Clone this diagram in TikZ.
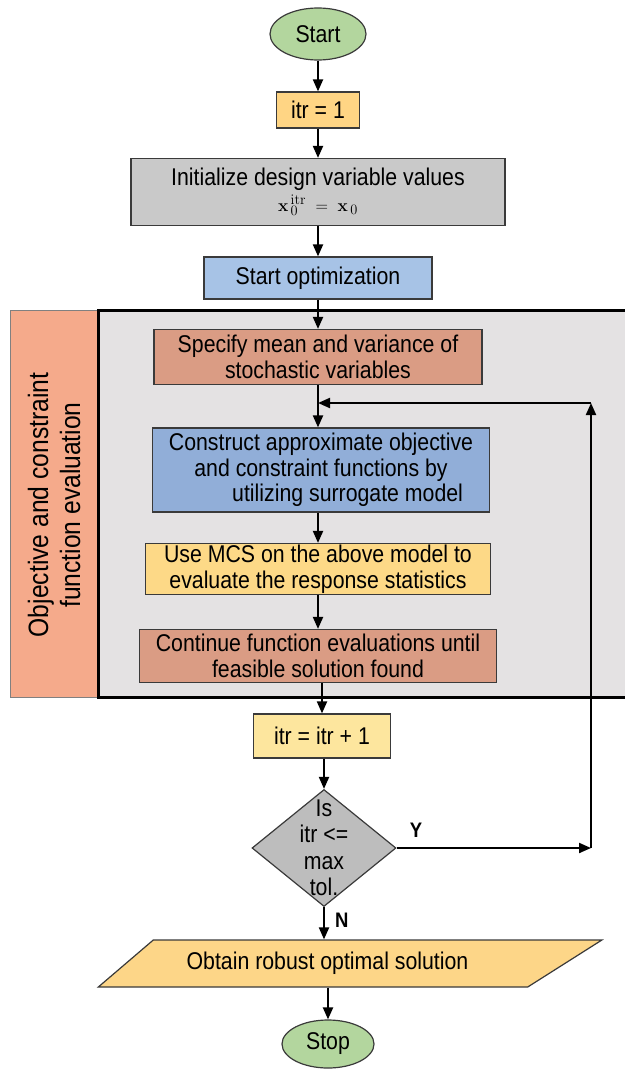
\documentclass[tikz,border=0pt]{standalone}
\usepackage[no-math]{fontspec}
\setmainfont{Liberation Sans}[FakeStretch=0.88]
\usetikzlibrary{shapes.geometric, arrows.meta}
\definecolor{termgreen}{HTML}{B3D69E}
\definecolor{initorange}{HTML}{FFD584}
\definecolor{boxgray}{HTML}{C9C9C9}
\definecolor{optblue}{HTML}{A7C3E6}
\definecolor{panelgray}{HTML}{E4E2E3}
\definecolor{stripsalmon}{HTML}{F5AA8B}
\definecolor{specsalmon}{HTML}{DA9C84}
\definecolor{consblue}{HTML}{91AED8}
\definecolor{mcsyellow}{HTML}{FDD987}
\definecolor{incyellow}{HTML}{FDE69E}
\definecolor{decgray}{HTML}{BDBDBD}
\definecolor{outorange}{HTML}{FDD688}
\definecolor{edgegray}{HTML}{3A3A3A}

\begin{document}
\begin{tikzpicture}[x=1pt, y=-1pt,
font=\fontsize{24.2}{25.5}\selectfont,
box/.style={draw=edgegray, line width=1.2pt, inner sep=0pt, align=center},
term/.style={box, ellipse, fill=termgreen},
arr/.style={line width=2pt, -{Triangle[length=12pt, width=10pt]}},
yn/.style={font=\fontsize{21}{22}\selectfont\bfseries, inner sep=0pt}]
\useasboundingbox (0,0) rectangle (624,1070);
\fill[panelgray] (98,310) rectangle (630,697);
\draw[fill=stripsalmon, draw=gray, line width=1pt] (10,310) rectangle (98,697);
\draw[line width=3pt] (630,310) -- (98,310) -- (98,697) -- (630,697);
\node[rotate=90, align=center, font=\fontsize{28}{32}\selectfont] (striptext) at (54,505) {Objective and constraint\\function evaluation};
\node[term, minimum width=96, minimum height=52] (start) at (318,34) {Start};
\node[box, fill=initorange, minimum width=83, minimum height=36] (itr1) at (318,110) {itr = 1};
\node[box, fill=boxgray, minimum width=374, minimum height=67] (init) at (318,192) {Initialize design variable values\\
	{\fontsize{19}{20}\selectfont$\mathbf{x}^{\,\mathrm{itr}}_{\,0} \;=\; \mathbf{x}_{\,0}$}};
\node[box, fill=optblue, minimum width=228, minimum height=42] (opt) at (318,278) {Start optimization};
\node[box, fill=specsalmon, minimum width=328, minimum height=55] (spec) at (318,357) {Specify mean and variance of\\stochastic variables};
\node[box, fill=consblue, minimum width=337, minimum height=84] (cons) at (321,470) {Construct approximate objective\\and constraint functions by\\\hspace{2.2em}utilizing surrogate model};
\node[box, fill=mcsyellow, minimum width=345, minimum height=51] (mcs) at (318,569) {Use MCS on the above model to\\evaluate the response statistics};
\node[box, fill=specsalmon, minimum width=357, minimum height=53] (cont) at (318,656) {Continue function evaluations until\\feasible solution found};
\node[box, fill=incyellow, minimum width=137, minimum height=44] (inc) at (322,736) {itr = itr + 1};
\node[box, diamond, fill=decgray, minimum width=144, minimum height=117] (dec) at (324,848) {};
\node[align=center, inner sep=0pt, font=\fontsize{24.2}{26.5}\selectfont] (dectext) at (dec.center) {Is\\itr <=\\max\\tol.};
\node[box, trapezium, trapezium left angle=31, trapezium right angle=156, trapezium stretches=true,
	minimum width=505, minimum height=47, fill=outorange] (obtain) at (340.5,963.5) {\hspace{-26pt}Obtain robust optimal solution};
\node[term, minimum width=92, minimum height=48] (stop) at (328,1044) {Stop};
\coordinate (ycorner) at (591,848);
\coordinate (topcorner) at (591,403);
\draw[arr] (start) -- (start |- itr1.north);
\draw[arr] (itr1) -- (itr1 |- init.north);
\draw[arr] (init) -- (init |- opt.north);
\draw[arr] (opt) -- (opt |- spec.north);
\draw[arr] (spec) -- (spec |- cons.north);
\draw[arr] (cons.south -| mcs) -- (mcs);
\draw[arr] (mcs) -- (mcs |- cont.north);
\draw[arr] (cont.south -| inc) -- (inc);
\draw[arr] (inc.south -| dec) -- (dec);
\draw[arr] (dec) -- node[yn, pos=0.1, above=10pt] {Y} (ycorner);
\draw[arr] (ycorner) -- (topcorner);
\draw[arr] (topcorner) -- (spec |- topcorner);
\draw[arr] (dec) -- node[yn, pos=0.4, right=10pt] {N} (dec |- obtain.north);
\draw[arr] (stop |- obtain.south) -- (stop);
\end{tikzpicture}
\end{document}
